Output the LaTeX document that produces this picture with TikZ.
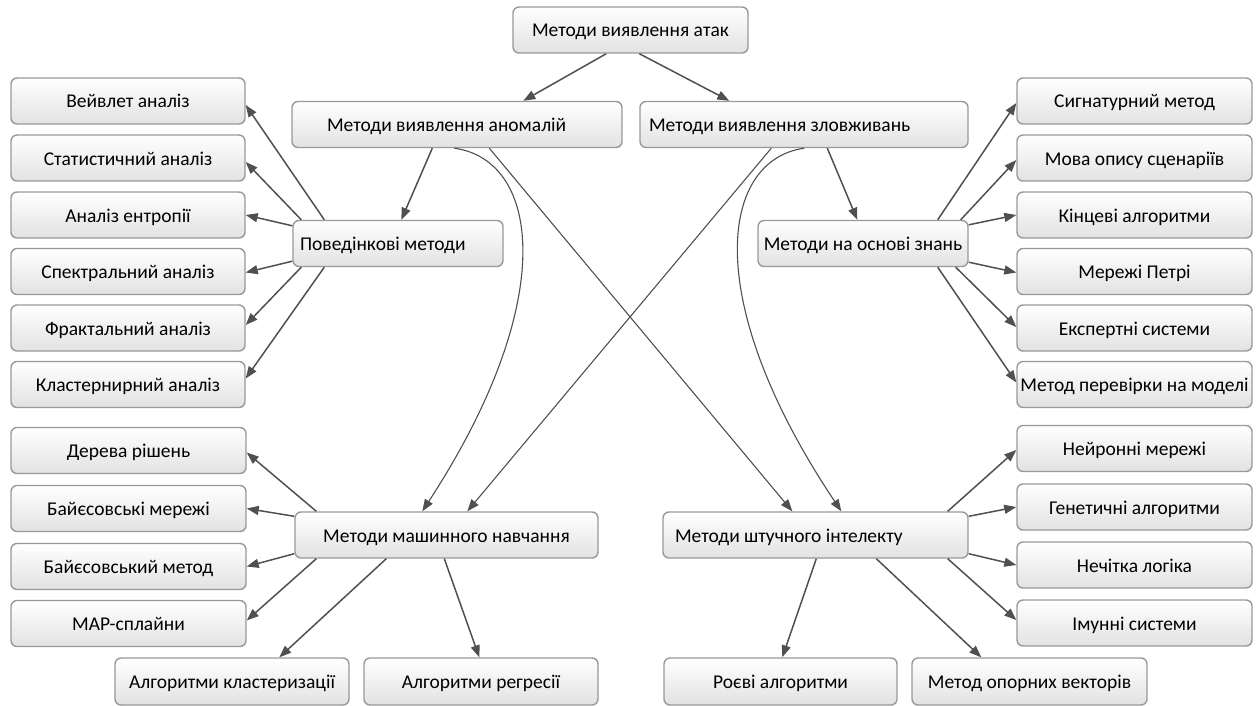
\documentclass[tikz,border=0pt]{standalone}
\usepackage{fontspec}
\setmainfont{Carlito}
\usetikzlibrary{arrows.meta,calc}
\definecolor{boxgray}{HTML}{999999}
\definecolor{boxbot}{HTML}{E2E2E2}
\definecolor{arrgray}{HTML}{505050}
\newcommand{\lefttext}[3]{\makebox[#1pt][l]{\hspace{#2pt}#3}}
\tikzset{
  box/.style={draw=boxgray, line width=1.4pt, rounded corners=6pt,
    top color=white, bottom color=boxbot, minimum height=46pt,
    text height=17pt, text depth=3pt,
    inner xsep=0pt, inner ysep=0pt, font=\fontsize{19.5}{22}\selectfont, text=black},
  arr/.style={draw=arrgray, line width=1.5pt, -{Triangle[length=12pt,width=9pt]}},
  thinarr/.style={arr, line width=1.1pt},
}
\begin{document}
\begin{tikzpicture}[x=1pt,y=-1pt]
\useasboundingbox (0,0) rectangle (1257,706);
% main nodes
\node[box, minimum width=235pt] (top) at (630.5,30) {Методи виявлення атак};
\node[box, minimum width=330pt] (anom) at (457,124.5) {\lefttext{330}{35}{Методи виявлення аномалій}};
\node[box, minimum width=328pt] (mis) at (804,124.5) {\lefttext{328}{9}{Методи виявлення зловживань}};
\node[box, minimum width=210pt] (beh) at (398,243.5) {\lefttext{210}{7}{Поведінкові методи}};
\node[box, minimum width=210pt] (know) at (863,243.5) {Методи на основі знань};
\node[box, minimum width=303pt] (ml) at (446.5,535) {Методи машинного навчання};
\node[box, minimum width=305pt] (ai) at (815.5,535) {\lefttext{305}{12}{Методи штучного інтелекту}};
% left column
\node[box, minimum width=234pt] (L1) at (128,101) {Вейвлет аналіз};
\node[box, minimum width=234pt] (L2) at (128,158) {Статистичний аналіз};
\node[box, minimum width=234pt] (L3) at (128,215) {Аналіз ентропії};
\node[box, minimum width=234pt] (L4) at (128,271.5) {Спектральний аналіз};
\node[box, minimum width=234pt] (L5) at (128,328) {Фрактальний аналіз};
\node[box, minimum width=234pt] (L6) at (128,384.5) {Кластернирний аналіз};
\node[box, minimum width=235pt] (LB1) at (128.5,450.5) {Дерева рішень};
\node[box, minimum width=235pt] (LB2) at (128.5,508.5) {Байєсовські мережі};
\node[box, minimum width=235pt] (LB3) at (128.5,566.5) {Байєсовський метод};
\node[box, minimum width=235pt] (LB4) at (128.5,623.5) {MAP-сплайни};
% right column
\node[box, minimum width=235pt] (R1) at (1134.5,101) {Сигнатурний метод};
\node[box, minimum width=235pt] (R2) at (1134.5,158) {Мова опису сценаріїв};
\node[box, minimum width=235pt] (R3) at (1134.5,215) {Кінцеві алгоритми};
\node[box, minimum width=235pt] (R4) at (1134.5,271.5) {Мережі Петрі};
\node[box, minimum width=235pt] (R5) at (1134.5,328) {Експертні системи};
\node[box, minimum width=235pt] (R6) at (1134.5,384.5) {Метод перевірки на моделі};
\node[box, minimum width=235pt] (RB1) at (1134.5,448.5) {Нейронні мережі};
\node[box, minimum width=235pt] (RB2) at (1134.5,507) {Генетичні алгоритми};
\node[box, minimum width=235pt] (RB3) at (1134.5,565) {Нечітка логіка};
\node[box, minimum width=235pt] (RB4) at (1134.5,623) {Імунні системи};
% bottom row
\node[box, minimum width=234pt, minimum height=47pt] (clu) at (232,681.5) {Алгоритми кластеризації};
\node[box, minimum width=234pt, minimum height=47pt] (reg) at (481,681.5) {Алгоритми регресії};
\node[box, minimum width=233pt, minimum height=47pt] (roy) at (780.5,681.5) {Роєві алгоритми};
\node[box, minimum width=235pt, minimum height=47pt] (svm) at (1029.5,681.5) {Метод опорних векторів};
% top level
\draw[arr] ($(top.south west)+(94,0)$) -- ($(anom.north west)+(232,0)$);
\draw[arr] ($(top.south west)+(127,0)$) -- ($(mis.north west)+(90,0)$);
% anomaly
\draw[arr] ($(anom.south west)+(141,0)$) -- ($(beh.north west)+(109,0)$);
\draw[thinarr] ($(anom.south west)+(163,0)$) .. controls (540,160) and (560,300) .. ($(ml.north west)+(128,0)$);
\draw[thinarr] ($(anom.south west)+(198,0)$) -- ($(ai.north west)+(130,0)$);
% misuse
\draw[thinarr] ($(mis.south west)+(132,0)$) -- ($(ml.north west)+(173,0)$);
\draw[thinarr] ($(mis.south west)+(165,0)$) .. controls (720,160) and (700,300) .. ($(ai.north west)+(179,0)$);
\draw[arr] ($(mis.south west)+(188,0)$) -- ($(know.north west)+(100,0)$);
% behavioural
\draw[arr] ($(beh.north west)+(32,0)$) -- ($(L1.east)+(0,4)$);
\draw[arr] ($(beh.north west)+(9,0)$) -- ($(L2.east)+(0,4)$);
\draw[arr] ($(beh.north west)+(0,6)$) -- ($(L3.east)+(0,0)$);
\draw[arr] ($(beh.south west)+(0,-6)$) -- ($(L4.east)+(0,1)$);
\draw[arr] ($(beh.south west)+(9,0)$) -- ($(L5.east)+(0,-3)$);
\draw[arr] ($(beh.south west)+(32,0)$) -- ($(L6.east)+(0,-6)$);
% knowledge
\draw[arr] ($(know.north east)+(-31,0)$) -- ($(R1.west)+(0,2)$);
\draw[arr] ($(know.north east)+(-8,0)$) -- ($(R2.west)+(0,2)$);
\draw[arr] ($(know.north east)+(0,5)$) -- ($(R3.west)+(0,0)$);
\draw[arr] ($(know.south east)+(0,-5)$) -- ($(R4.west)+(0,1)$);
\draw[arr] ($(know.south east)+(-13,0)$) -- ($(R5.west)+(0,-1)$);
\draw[arr] ($(know.south east)+(-31,0)$) -- ($(R6.west)+(0,-2)$);
% machine learning
\draw[arr] ($(ml.north west)+(22,0)$) -- ($(LB1.east)+(0,2)$);
\draw[arr] ($(ml.north west)+(0,5)$) -- ($(LB2.east)+(0,0)$);
\draw[arr] ($(ml.south west)+(0,-5)$) -- ($(LB3.east)+(0,0)$);
\draw[arr] ($(ml.south west)+(22,0)$) -- ($(LB4.east)+(0,-3)$);
\draw[arr] ($(ml.south west)+(92,0)$) -- ($(clu.north west)+(165,0)$);
\draw[arr] ($(ml.south west)+(150,0)$) -- ($(reg.north west)+(116,0)$);
% AI
\draw[arr] ($(ai.north east)+(-21,0)$) -- ($(RB1.west)+(0,1.5)$);
\draw[arr] ($(ai.north east)+(0,5)$) -- ($(RB2.west)+(0,0)$);
\draw[arr] ($(ai.south east)+(0,-5)$) -- ($(RB3.west)+(0,0)$);
\draw[arr] ($(ai.south east)+(-21,0)$) -- ($(RB4.west)+(0,-3)$);
\draw[arr] ($(ai.south west)+(154,0)$) -- ($(roy.north west)+(119,0)$);
\draw[arr] ($(ai.south west)+(214,0)$) -- ($(svm.north west)+(70,0)$);
\end{tikzpicture}
\end{document}
